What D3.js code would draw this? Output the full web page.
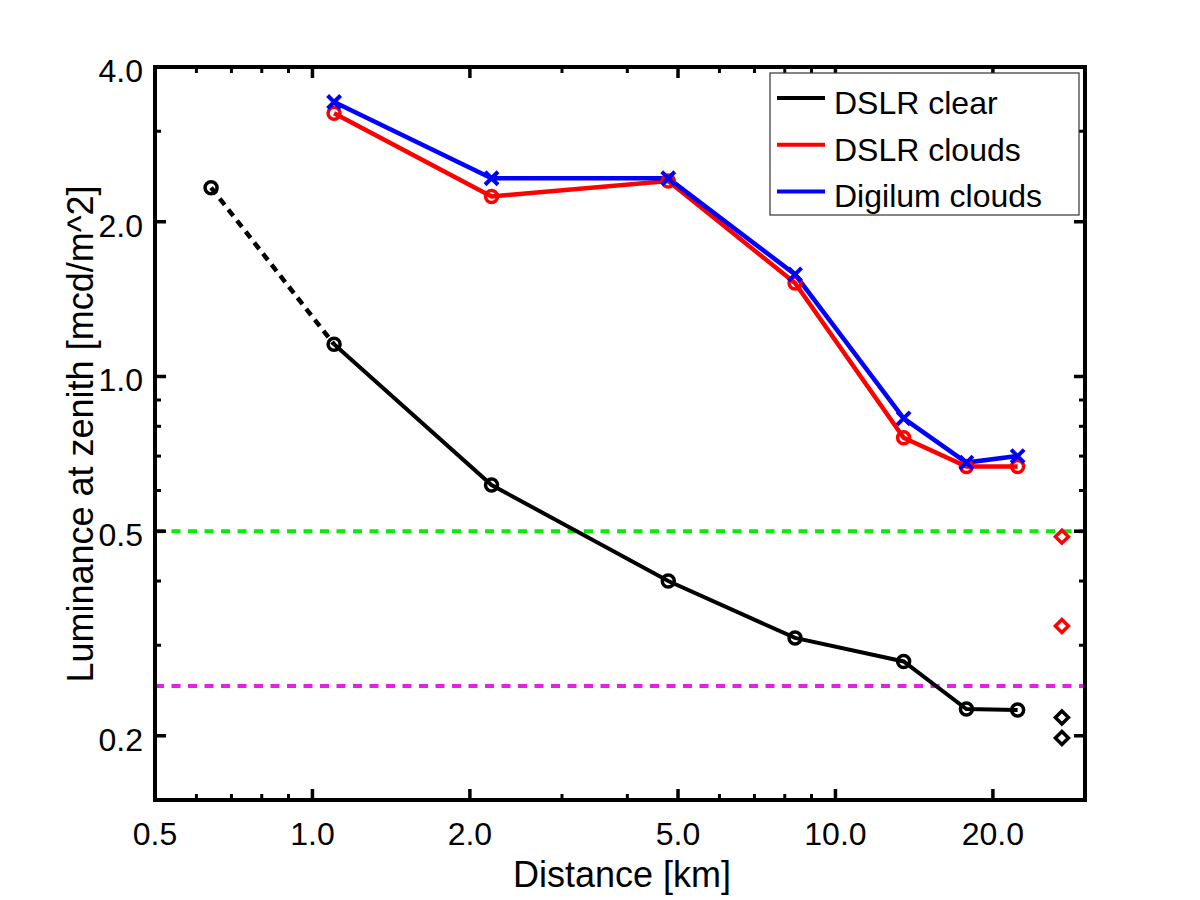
<!DOCTYPE html>
<html>
<head>
<meta charset="utf-8">
<script src="https://cdn.jsdelivr.net/npm/d3@7"></script>
<style>
body { margin: 0; background: #fff; }
text { font-family: "Liberation Sans", Arial, Helvetica, sans-serif; }
</style>
</head>
<body>
<script>
// distances [km] and zenith luminance [mcd/m^2]
var distClear = [0.64, 1.10, 2.20, 4.79, 8.37, 13.5, 17.8, 22.3];
var lumClear = [2.33, 1.155, 0.615, 0.40, 0.31, 0.279, 0.2255, 0.2245];
var distClouds = [1.10, 2.20, 4.79, 8.37, 13.5, 17.8, 22.3];
var lumDslrClouds = [3.25, 2.24, 2.40, 1.52, 0.76, 0.668, 0.668];
var lumDigilumClouds = [3.42, 2.43, 2.43, 1.58, 0.829, 0.68, 0.70];
var diamondDist = 27.1;
var diamondRed = [0.488, 0.327];
var diamondBlack = [0.217, 0.198];
var refLines = [0.5, 0.25];
var xTicks = [0.5, 1, 2, 5, 10, 20];
var xMinor = [0.6, 0.7, 0.8, 0.9, 3, 4, 6, 7, 8, 9];
var yTicks = [0.2, 0.5, 1, 2, 4];
var yMinor = [0.3, 0.4, 0.6, 0.7, 0.8, 0.9, 3];
var legendNames = ["DSLR clear", "DSLR clouds", "Digilum clouds"];
var legendColors = ["#000", "#ff0000", "#0000ff"];

var w = 1200, h = 900;
var L = 155, R = 1085, T = 67, B = 800;

var svg = d3.select("body").append("svg")
    .attr("width", w)
    .attr("height", h);

var x = d3.scaleLog().domain([0.5, 30]).range([L, R]);
var y = d3.scaleLog().domain([0.15, 4.0]).range([B, T]);

// reference levels
svg.selectAll(".ref")
    .data(refLines)
  .enter().append("line")
    .attr("x1", L).attr("x2", R)
    .attr("y1", function(d) { return y(d); })
    .attr("y2", function(d) { return y(d); })
    .attr("stroke", function(d, i) { return i == 0 ? "#00f000" : "#e61ee6"; })
    .attr("stroke-width", 4)
    .attr("stroke-dasharray", "9,7.5");

var line = d3.line()
    .x(function(d) { return x(d[0]); })
    .y(function(d) { return y(d[1]); });

var clear = d3.zip(distClear, lumClear);
var dslr = d3.zip(distClouds, lumDslrClouds);
var digi = d3.zip(distClouds, lumDigilumClouds);

// black: dashed first segment, then solid
svg.append("path")
    .attr("d", line(clear.slice(0, 2)))
    .attr("fill", "none").attr("stroke", "#000")
    .attr("stroke-width", 4.5).attr("stroke-dasharray", "8,6");
svg.append("path")
    .attr("d", line(clear.slice(1)))
    .attr("fill", "none").attr("stroke", "#000")
    .attr("stroke-width", 4);

svg.append("path")
    .attr("d", line(dslr))
    .attr("fill", "none").attr("stroke", "#ff0000")
    .attr("stroke-width", 4.5);
svg.append("path")
    .attr("d", line(digi))
    .attr("fill", "none").attr("stroke", "#0000ff")
    .attr("stroke-width", 4.5);

// circle markers
function circles(data, color) {
  svg.selectAll(null)
      .data(data)
    .enter().append("circle")
      .attr("cx", function(d) { return x(d[0]); })
      .attr("cy", function(d) { return y(d[1]); })
      .attr("r", 6)
      .attr("fill", "none")
      .attr("stroke", color)
      .attr("stroke-width", 3.5);
}
circles(clear, "#000");
circles(dslr, "#ff0000");

// x markers
svg.selectAll(null)
    .data(digi)
  .enter().append("path")
    .attr("transform", function(d) { return "translate(" + x(d[0]) + "," + y(d[1]) + ")"; })
    .attr("d", "M-6.5,-6.5L6.5,6.5M-6.5,6.5L6.5,-6.5")
    .attr("stroke", "#0000ff")
    .attr("stroke-width", 4);

// diamonds
function diamonds(vals, color) {
  svg.selectAll(null)
      .data(vals)
    .enter().append("path")
      .attr("transform", function(d) { return "translate(" + x(diamondDist) + "," + y(d) + ")"; })
      .attr("d", "M0,-6.5L6.5,0L0,6.5L-6.5,0Z")
      .attr("fill", "none")
      .attr("stroke", color)
      .attr("stroke-width", 3.5);
}
diamonds(diamondRed, "#ff0000");
diamonds(diamondBlack, "#000");

// frame
svg.append("rect")
    .attr("x", L).attr("y", T)
    .attr("width", R - L).attr("height", B - T)
    .attr("fill", "none").attr("stroke", "#000")
    .attr("stroke-width", 4);

// ticks on all four sides
function xt(vals, len, sw) {
  vals.forEach(function(v) {
    svg.append("line").attr("x1", x(v)).attr("x2", x(v))
        .attr("y1", B).attr("y2", B - len).attr("stroke", "#000").attr("stroke-width", sw);
    svg.append("line").attr("x1", x(v)).attr("x2", x(v))
        .attr("y1", T).attr("y2", T + len).attr("stroke", "#000").attr("stroke-width", sw);
  });
}
function yt(vals, len, sw) {
  vals.forEach(function(v) {
    svg.append("line").attr("y1", y(v)).attr("y2", y(v))
        .attr("x1", L).attr("x2", L + len).attr("stroke", "#000").attr("stroke-width", sw);
    svg.append("line").attr("y1", y(v)).attr("y2", y(v))
        .attr("x1", R).attr("x2", R - len).attr("stroke", "#000").attr("stroke-width", sw);
  });
}
xt(xTicks.slice(1), 11, 3.5);
xt(xMinor, 6, 3);
yt(yTicks.slice(0, 4), 11, 3.5);
yt(yMinor, 6, 3);

svg.selectAll(".xl")
    .data(xTicks)
  .enter().append("text")
    .attr("x", function(d) { return x(d); })
    .attr("y", 845)
    .attr("text-anchor", "middle")
    .attr("font-size", 32)
    .text(function(d) { return d.toFixed(1); });

svg.selectAll(".yl")
    .data(yTicks)
  .enter().append("text")
    .attr("x", 143)
    .attr("y", function(d) { return y(d) + 15; })
    .attr("text-anchor", "end")
    .attr("font-size", 32)
    .text(function(d) { return d.toFixed(1); });

svg.append("text")
    .attr("x", 622).attr("y", 887)
    .attr("text-anchor", "middle")
    .attr("font-size", 36)
    .text("Distance [km]");

svg.append("text")
    .attr("transform", "translate(93,434)rotate(-90)")
    .attr("text-anchor", "middle")
    .attr("font-size", 36)
    .text("Luminance at zenith [mcd/m^2]");

// legend
var lg = svg.append("g");
lg.append("rect")
    .attr("x", 770).attr("y", 73)
    .attr("width", 309).attr("height", 142)
    .attr("fill", "#fff").attr("stroke", "#333").attr("stroke-width", 1.2);
legendNames.forEach(function(n, i) {
  var yy = 98 + i * 46.7;
  lg.append("line").attr("x1", 777).attr("x2", 825)
      .attr("y1", yy).attr("y2", yy)
      .attr("stroke", legendColors[i]).attr("stroke-width", 4);
  lg.append("text").attr("x", 834).attr("y", yy + 16)
      .attr("font-size", 32).text(n);
});
</script>
</body>
</html>
